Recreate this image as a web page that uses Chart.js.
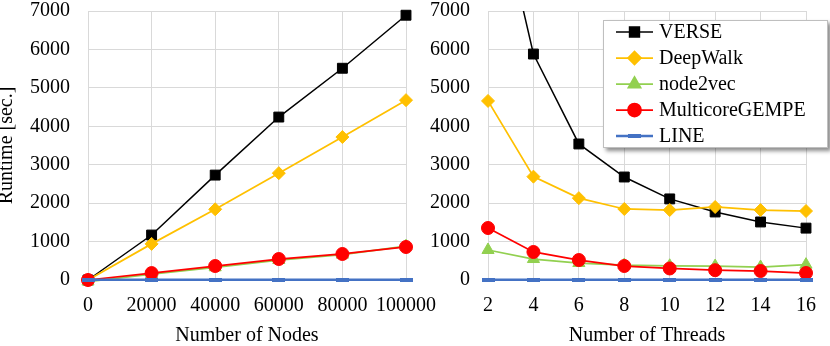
<!DOCTYPE html>
<html>
<head>
<meta charset="utf-8">
<script src="https://cdn.jsdelivr.net/npm/chart.js@4.4.0/dist/chart.umd.min.js"></script>
<style>
  html, body { margin: 0; padding: 0; background: #fff; }
  body { width: 830px; height: 346px; position: relative; overflow: hidden; }
  #leftWrap { position: absolute; left: -5px; top: 0; }
  #rightWrap { position: absolute; left: 415px; top: 0; }
  canvas { display: block; }
</style>
</head>
<body>
<div id="leftWrap"><canvas id="nodesChart" width="455" height="346"></canvas></div>
<div id="rightWrap"><canvas id="threadsChart" width="415" height="346"></canvas></div>
<script>
// ── Data ──
const NODES = [0, 20000, 40000, 60000, 80000, 100000];
const THREADS = [2, 4, 6, 8, 10, 12, 14, 16];

const SERIES = ['VERSE', 'DeepWalk', 'node2vec', 'MulticoreGEMPE', 'LINE'];

// runtime vs number of nodes
const verseNodes    = [0, 1170, 2730, 4240, 5510, 6890];
const deepwalkNodes = [0, 940, 1840, 2780, 3720, 4680];
const n2vNodes      = [-40, 150, 330, 520, 660, 880];
const gempeNodes    = [0, 180, 364, 546, 677, 859];
const lineNodes     = [5, 5, 5, 5, 5, 5];

// runtime vs number of threads
const verseThreads    = [11000, 5880, 3540, 2680, 2110, 1770, 1510, 1350];
const deepwalkThreads = [4660, 2690, 2130, 1848, 1821, 1900, 1821, 1795];
const n2vThreads      = [781, 546, 442, 390, 370, 364, 338, 400];
const gempeThreads    = [1353, 729, 520, 364, 300, 255, 234, 182];
const lineThreads     = [5, 5, 5, 5, 5, 5, 5, 5];

const Y_TICKS = [0, 1000, 2000, 3000, 4000, 5000, 6000, 7000];

// ── Styles ──
function makeDash() {
  const c = document.createElement('canvas');
  c.width = 13;
  c.height = 4;
  const g = c.getContext('2d');
  g.fillStyle = '#4472C4';
  g.fillRect(0, 0, 13, 4);
  return c;
}

const STYLES = {
  'VERSE':          { color: '#000000', point: 'rect',     r: 7,   width: 1.5, order: 5 },
  'DeepWalk':       { color: '#FFC000', point: 'rectRot',  r: 6.5, width: 1.75, order: 4 },
  'node2vec':       { color: '#92D050', point: 'triangle', r: 7,   width: 1.75, order: 3 },
  'MulticoreGEMPE': { color: '#FF0000', point: 'circle',   r: 6.5, width: 1.75, order: 2 },
  'LINE':           { color: '#4472C4', point: makeDash(), r: 6,   width: 2.5, order: 1 },
};

function makeDataset(name, xs, ys, clipTop) {
  const s = STYLES[name];
  return {
    label: name,
    data: xs.map((x, i) => ({ x: x, y: ys[i] })),
    borderColor: s.color,
    backgroundColor: s.color,
    borderWidth: s.width,
    pointStyle: s.point,
    pointRadius: s.r,
    pointBorderWidth: 1,
    pointBorderColor: s.color,
    pointBackgroundColor: s.color,
    tension: 0,
    order: s.order,
    clip: { left: 20, right: 20, top: clipTop, bottom: 20 },
  };
}

// ── Legend drawn inside the right panel ──
const legendBox = {
  id: 'legendBox',
  afterDraw(chart) {
    if (chart.canvas.id !== 'threadsChart') return;
    const ctx = chart.ctx;
    const bx = 188, by = 20, bw = 225, bh = 128;
    ctx.save();
    ctx.shadowColor = 'rgba(0,0,0,0.45)';
    ctx.shadowBlur = 4;
    ctx.shadowOffsetX = 3;
    ctx.shadowOffsetY = 3;
    ctx.fillStyle = '#fff';
    ctx.fillRect(bx, by, bw, bh);
    ctx.shadowColor = 'transparent';
    ctx.strokeStyle = '#bfbfbf';
    ctx.lineWidth = 1;
    ctx.strokeRect(bx + 0.5, by + 0.5, bw - 1, bh - 1);

    chart.data.datasets.forEach((ds, i) => {
      const s = STYLES[ds.label];
      const yy = by + 12 + i * 26;
      ctx.strokeStyle = s.color;
      ctx.lineWidth = s.width;
      ctx.beginPath();
      ctx.moveTo(bx + 13, yy);
      ctx.lineTo(bx + 50, yy);
      ctx.stroke();
      ctx.fillStyle = s.color;
      ctx.strokeStyle = s.color;
      Chart.helpers.drawPoint(ctx, { pointStyle: s.point, radius: s.r, rotation: 0, borderWidth: 1 }, bx + 31.5, yy);
      ctx.fillStyle = '#000';
      ctx.font = '20px "Liberation Serif", serif';
      ctx.textBaseline = 'middle';
      ctx.textAlign = 'left';
      ctx.fillText(ds.label, bx + 56, yy + 1);
    });
    ctx.restore();
  }
};

Chart.defaults.font.family = '"Liberation Serif", "Times New Roman", serif';
Chart.defaults.font.size = 20;
Chart.defaults.color = '#000';

// ── Chart builder ──
function buildChart(id, xs, xTitle, xMin, xMax, yTitle, yWidth, series, pad, clipTop) {
  const ctx = document.getElementById(id).getContext('2d');
  return new Chart(ctx, {
    type: 'line',
    data: {
      datasets: SERIES.map((name, i) => makeDataset(name, xs, series[i], clipTop)),
    },
    options: {
      responsive: false,
      animation: false,
      layout: { padding: pad },
      plugins: { legend: { display: false }, tooltip: { enabled: false } },
      scales: {
        x: {
          type: 'linear',
          min: xMin, max: xMax,
          afterBuildTicks: axis => { axis.ticks = xs.map(v => ({ value: v })); },
          grid: { color: '#d9d9d9', drawTicks: false },
          border: { display: false },
          ticks: { padding: 14, maxRotation: 0, autoSkip: false, callback: v => String(v) },
          title: { display: true, text: xTitle, padding: 0, font: { lineHeight: 1.0 } },
          afterFit: axis => { axis.height = 66; },
        },
        y: {
          min: 0, max: 7000,
          afterBuildTicks: axis => { axis.ticks = Y_TICKS.map(v => ({ value: v })); },
          grid: { color: '#d9d9d9', drawTicks: false },
          border: { display: false },
          ticks: { padding: 18, callback: v => String(v) },
          title: { display: !!yTitle, text: yTitle, padding: 0 },
          afterFit: axis => {
            axis.width = yWidth;
            axis.paddingTop = 0;
            axis.paddingBottom = 0;
          },
        },
      },
    },
    plugins: [legendBox],
  });
}

buildChart('nodesChart', NODES, 'Number of Nodes', 0, 100000, 'Runtime [sec.]', 93,
  [verseNodes, deepwalkNodes, n2vNodes, gempeNodes, lineNodes],
  { top: 11, right: 43, bottom: 0, left: 0 }, 8);

buildChart('threadsChart', THREADS, 'Number of Threads', 2, 16, '', 73,
  [verseThreads, deepwalkThreads, n2vThreads, gempeThreads, lineThreads],
  { top: 11, right: 22, bottom: 0, left: 0 }, 0);
</script>
</body>
</html>
